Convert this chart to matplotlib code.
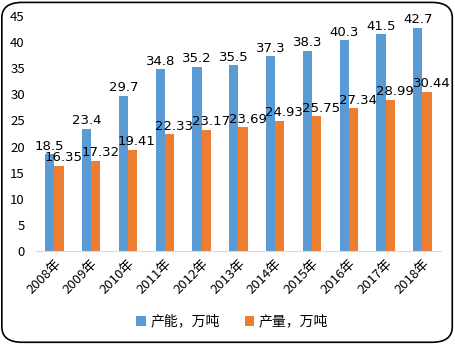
import numpy as np
import matplotlib
matplotlib.use("Agg")
import matplotlib.pyplot as plt
from matplotlib.patches import FancyBboxPatch

plt.rcParams['font.family'] = ['Noto Sans CJK SC', 'DejaVu Sans']

years = ['2008年', '2009年', '2010年', '2011年', '2012年', '2013年',
         '2014年', '2015年', '2016年', '2017年', '2018年']
capacity = [18.5, 23.4, 29.7, 34.8, 35.2, 35.5, 37.3, 38.3, 40.3, 41.5, 42.7]
output = [16.35, 17.32, 19.41, 22.33, 23.17, 23.69, 24.93, 25.75, 27.34, 28.99, 30.44]
cap_labels = ['18.5', '23.4', '29.7', '34.8', '35.2', '35.5', '37.3', '38.3', '40.3', '41.5', '42.7']
out_labels = ['16.35', '17.32', '19.41', '22.33', '23.17', '23.69', '24.93', '25.75', '27.34', '28.99', '30.44']

blue = '#5B9BD5'
orange = '#ED7D31'

fig = plt.figure(figsize=(4.55, 3.44), dpi=100)
ax = fig.add_axes([0.079, 0.270, 0.890, 0.684])

x = np.arange(len(years))
w = 0.25
b1 = ax.bar(x - w / 2, capacity, w, color=blue, label='产能，万吨')
b2 = ax.bar(x + w / 2, output, w, color=orange, label='产量，万吨')

# value labels above each bar
for rect, txt in zip(b1, cap_labels):
    ax.text(rect.get_x() + rect.get_width() / 2, rect.get_height() + 0.3, txt,
            ha='center', va='bottom', fontsize=9.5, family='DejaVu Sans')
for rect, txt in zip(b2, out_labels):
    ax.text(rect.get_x() + rect.get_width() / 2 + 0.12, rect.get_height() + 0.3, txt,
            ha='center', va='bottom', fontsize=9.5, family='DejaVu Sans')

ax.set_ylim(0, 45)
ax.set_xlim(-0.5, len(years) - 0.5)
ax.set_yticks(np.arange(0, 46, 5))
ax.set_xticks(x)
ax.set_xticklabels(years, rotation=45, ha='right', rotation_mode='anchor', fontsize=9.5)
ax.tick_params(axis='y', length=0, labelsize=9.5, pad=8)
ax.tick_params(axis='x', length=0, pad=4)
for s in ['top', 'right', 'left']:
    ax.spines[s].set_visible(False)
ax.spines['bottom'].set_color('#d9d9d9')

fig.legend(loc='center', bbox_to_anchor=(0.51, 0.065), ncol=2, frameon=False,
           fontsize=10, handlelength=0.7, handleheight=0.7, columnspacing=1.8,
           handletextpad=0.3)

border = FancyBboxPatch((0.004, 0.005), 0.99, 0.988, boxstyle='round,pad=0,rounding_size=0.045',
                        transform=fig.transFigure, fill=False, edgecolor='black', linewidth=1.2)
fig.patches.append(border)

fig.savefig('out.png', dpi=100)
